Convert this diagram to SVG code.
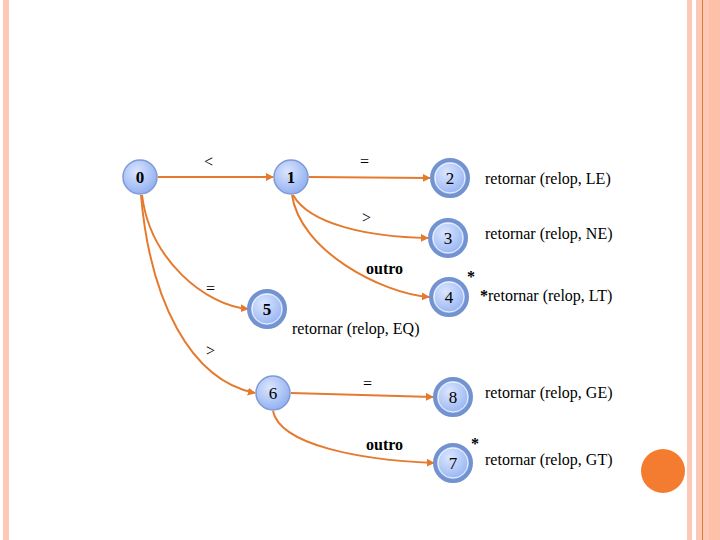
<svg xmlns="http://www.w3.org/2000/svg" width="720" height="540" viewBox="0 0 720 540">
<defs>
<radialGradient id="g" cx="40%" cy="35%" r="70%"><stop offset="0" stop-color="#dbe6ff"/><stop offset="1" stop-color="#8eaef0"/></radialGradient>
<marker id="a" viewBox="0 0 10 10" refX="9" refY="5" markerWidth="4" markerHeight="4" orient="auto"><path d="M0,0L10,5L0,10z" fill="#e57a2e"/></marker>
</defs>
<style>
.n{fill:url(#g);stroke:#7f9ad6;stroke-width:1.5}
.f{fill:url(#g);stroke:#7393d0;stroke-width:4}
.f2{fill:none;stroke:#fff;stroke-width:0.8}
.t{font-family:"Liberation Serif",serif;font-size:16px;fill:#000}
.c{font-family:"Liberation Serif",serif;font-size:17px;text-anchor:middle}
.b{font-weight:bold}
.e{fill:none;stroke:#e57a2e;stroke-width:2;marker-end:url(#a)}
</style>
<rect width="720" height="540" fill="#fff"/>
<rect x="3" y="0" width="6" height="540" fill="#fbc9b5"/>
<rect x="687" y="0" width="5" height="540" fill="#fbc9b5"/>
<rect x="696" y="0" width="24" height="540" fill="#fbc9b5"/>
<rect x="709" y="0" width="11" height="540" fill="#fdc0a8"/>
<line x1="702.5" y1="0" x2="702.5" y2="540" stroke="#e57a2e" stroke-width="1"/>
<circle cx="663" cy="471" r="22" fill="#f47c30"/>
<g id="connectors">
<path class="e" d="M158,177 L273,177"/>
<path class="e" d="M309,177 L430,178"/>
<path class="e" d="M293,195 C310,225 370,237 428,238"/>
<path class="e" d="M292,195 C300,250 380,293 429,297"/>
<path class="e" d="M142,195 C150,260 205,305 248,309"/>
<path class="e" d="M141,195 C150,300 190,380 255,393"/>
<path class="e" d="M291,393 L433,397"/>
<path class="e" d="M273,411 C280,445 360,460 434,463"/>
</g>
<g id="n0"><circle class="n" cx="140" cy="177" r="17"/><text class="c b" x="140" y="183">0</text></g>
<g id="n1"><circle class="n" cx="291" cy="177" r="17"/><text class="c b" x="291" y="183">1</text></g>
<g id="n2"><circle class="f" cx="450" cy="178" r="18"/><circle class="f2" cx="450" cy="178" r="15"/><text class="c" x="450" y="184">2</text></g>
<g id="n3"><circle class="f" cx="448" cy="238" r="18"/><circle class="f2" cx="448" cy="238" r="15"/><text class="c" x="448" y="244">3</text></g>
<g id="n4"><circle class="f" cx="449" cy="297" r="18"/><circle class="f2" cx="449" cy="297" r="15"/><text class="c" x="449" y="303">4</text></g>
<g id="n5"><circle class="f" cx="267" cy="309" r="18"/><circle class="f2" cx="267" cy="309" r="15"/><text class="c b" x="267" y="315">5</text></g>
<g id="n6"><circle class="n" cx="273" cy="393" r="17"/><text class="c" x="273" y="399">6</text></g>
<g id="n8"><circle class="f" cx="453" cy="397" r="18"/><circle class="f2" cx="453" cy="397" r="15"/><text class="c" x="453" y="403">8</text></g>
<g id="n7"><circle class="f" cx="453" cy="463" r="18"/><circle class="f2" cx="453" cy="463" r="15"/><text class="c" x="453" y="469">7</text></g>
<g id="labels">
<text class="t" x="204" y="167">&lt;</text>
<text class="t" x="360" y="167">=</text>
<text class="t" x="362" y="223">&gt;</text>
<text class="t b" x="366" y="274">outro</text>
<text class="t" x="206" y="294">=</text>
<text class="t" x="206" y="356">&gt;</text>
<text class="t" x="363" y="389">=</text>
<text class="t b" x="366" y="450">outro</text>
<text class="t b" x="467" y="282">*</text>
<text class="t b" x="471" y="449">*</text>
<text class="t" x="485" y="184">retornar (relop, LE)</text>
<text class="t" x="485" y="239">retornar (relop, NE)</text>
<text class="t" x="480" y="301"><tspan font-weight="bold">*</tspan>retornar (relop, LT)</text>
<text class="t" x="292" y="334">retornar (relop, EQ)</text>
<text class="t" x="485" y="398">retornar (relop, GE)</text>
<text class="t" x="485" y="465">retornar (relop, GT)</text>
</g>
</svg>
